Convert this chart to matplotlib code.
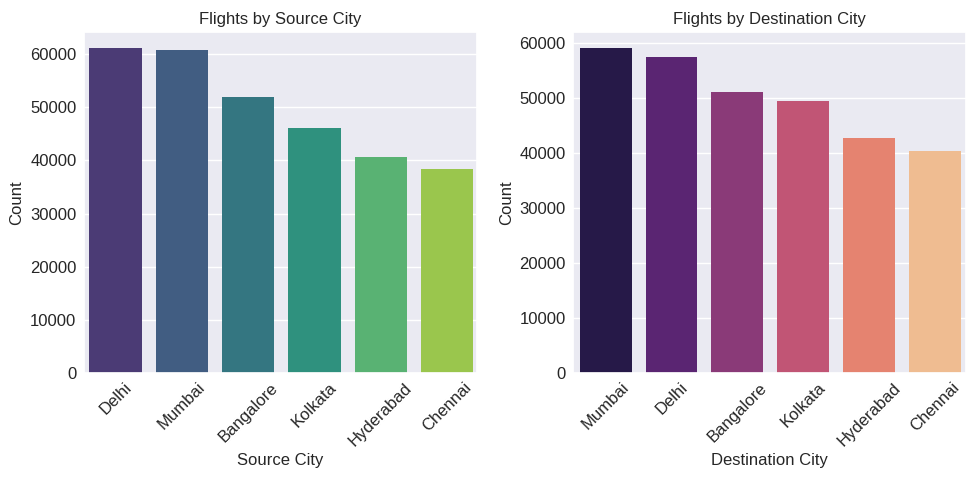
import matplotlib
matplotlib.use("Agg")
import matplotlib.pyplot as plt
import seaborn as sns

# Values
source_cities = ["Delhi", "Mumbai", "Bangalore", "Kolkata", "Hyderabad", "Chennai"]
source_counts = [61100, 60750, 51950, 46100, 40650, 38400]
dest_cities = ["Mumbai", "Delhi", "Bangalore", "Kolkata", "Hyderabad", "Chennai"]
dest_counts = [59000, 57400, 51050, 49400, 42700, 40350]

sns.set_theme(style="darkgrid")
plt.rcParams["font.family"] = ["Liberation Sans", "DejaVu Sans"]
plt.rcParams["xtick.labelsize"] = 12
plt.rcParams["ytick.labelsize"] = 12
plt.rcParams["axes.labelsize"] = 12
plt.rcParams["axes.titlesize"] = 12

fig, axes = plt.subplots(1, 2, figsize=(9.77, 4.78), dpi=100)

sns.barplot(x=source_cities, y=source_counts, hue=source_cities, palette="viridis",
            legend=False, width=0.79, linewidth=0, ax=axes[0])
axes[0].set_title("Flights by Source City")
axes[0].set_xlabel("Source City", labelpad=3)
axes[0].set_ylabel("Count")
axes[0].set_xlim(-0.475, 5.445)

sns.barplot(x=dest_cities, y=dest_counts, hue=dest_cities, palette="magma",
            legend=False, width=0.79, linewidth=0, ax=axes[1])
axes[1].set_title("Flights by Destination City")
axes[1].set_xlabel("Destination City", labelpad=3)
axes[1].set_ylabel("Count")
axes[1].set_xlim(-0.49, 5.476)

for ax in axes:
    ax.tick_params(axis="x", rotation=45, length=0, pad=5)
    ax.tick_params(axis="y", length=0, pad=5.5)

fig.subplots_adjust(left=0.086, right=0.9887, top=0.933, bottom=0.2197, wspace=0.247)
fig.savefig("out.png", dpi=100)
